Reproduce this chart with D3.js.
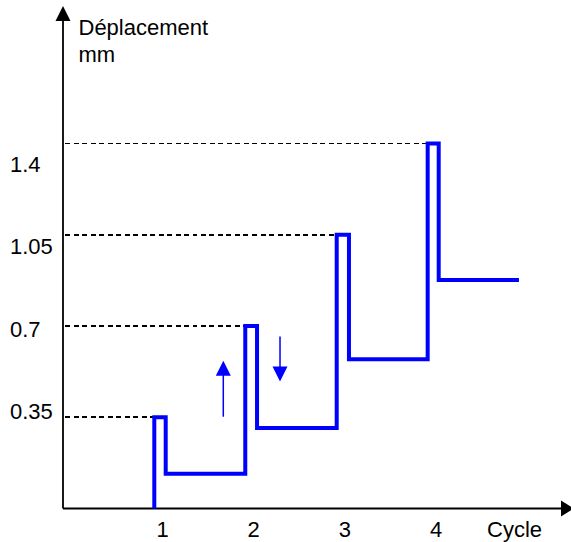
<!DOCTYPE html>
<html>
<head>
<meta charset="utf-8">
<script src="https://cdn.jsdelivr.net/npm/d3@7"></script>
<style>
  html, body { margin: 0; padding: 0; background: #fff; }
  text { font-family: "Liberation Sans", Arial, sans-serif; fill: #000; }
</style>
</head>
<body>
<svg id="chart" width="571" height="542"></svg>
<script>
// ---- data ----
const cycles = [1, 2, 3, 4];
const cycleLabels = ["1", "2", "3", "4"];
const levels = [0.35, 0.7, 1.05, 1.4];
const levelLabels = ["0.35", "0.7", "1.05", "1.4"];
// peak positions (cycle coordinate where the dashed guide meets the curve)
const peakCycles = [0.9375, 1.935, 2.9375, 3.935];
// displacement path: [cycle, mm]
const pathCycle = [0.9375, 0.9375, 1.0625, 1.0625, 1.935, 1.935, 2.064, 2.064, 2.9375, 2.9375, 3.072, 3.072, 3.935, 3.935, 4.056, 4.056, 4.936];
const pathMM    = [0,      0.35,   0.35,   0.1335, 0.1335, 0.7,  0.7,   0.309, 0.309,  1.05,   1.05,  0.572, 0.572, 1.4,   1.4,   0.8765, 0.8765];
// direction arrows: [cycle, from mm, to mm]
const arrowCycle = [1.694, 2.316];
const arrowFrom  = [0.352, 0.66];
const arrowTo    = [0.567, 0.487];
const yTitle = ["Déplacement", "mm"];
const xTitle = "Cycle";

// ---- scales ----
const svg = d3.select("#chart");
const x = d3.scaleLinear().domain([1, 4]).range([160, 433.6]);
const y = d3.scaleLinear().domain([0, 1.4]).range([508.5, 143.5]);
const labelY = d3.scaleLinear().domain([0.35, 1.4]).range([419, 172]);
const axisX0 = 63, axisY0 = 508.5;

// ---- axes ----
svg.append("line").attr("x1", axisX0).attr("y1", axisY0).attr("x2", axisX0).attr("y2", 18)
  .attr("stroke", "#000").attr("stroke-width", 1.8);
svg.append("path").attr("d", d3.line()([[axisX0, 6], [axisX0 - 7.5, 21], [axisX0 + 7.5, 21]]) + "Z")
  .attr("fill", "#000");
svg.append("line").attr("x1", axisX0).attr("y1", axisY0).attr("x2", 562).attr("y2", axisY0)
  .attr("stroke", "#000").attr("stroke-width", 1.8);
svg.append("path").attr("d", d3.line()([[574, axisY0], [561, axisY0 - 8], [561, axisY0 + 8]]) + "Z")
  .attr("fill", "#000");

// ---- dashed guides ----
svg.selectAll("line.guide").data(levels).join("line")
  .attr("class", "guide")
  .attr("x1", axisX0 + 2).attr("x2", (d, i) => x(peakCycles[i]))
  .attr("y1", d => y(d)).attr("y2", d => y(d))
  .attr("stroke", "#000").attr("stroke-width", 1.6).attr("stroke-dasharray", "5,3.5")
  .attr("shape-rendering", "crispEdges");

// ---- curve ----
const pts = pathCycle.map((c, i) => [x(c), y(pathMM[i])]);
svg.append("path").attr("d", d3.line()(pts))
  .attr("fill", "none").attr("stroke", "#0000ff").attr("stroke-width", 4)
  .attr("stroke-linejoin", "miter").attr("stroke-linecap", "butt");

// ---- direction arrows ----
arrowCycle.forEach((c, i) => {
  const ax = x(c), y0 = y(arrowFrom[i]), y1 = y(arrowTo[i]);
  const dir = y1 < y0 ? -1 : 1;
  svg.append("line").attr("x1", ax).attr("x2", ax).attr("y1", y0).attr("y2", y1 - dir * 14)
    .attr("stroke", "#0000ff").attr("stroke-width", 1.5);
  svg.append("path").attr("d", d3.line()([[ax, y1], [ax - 7.5, y1 - dir * 15], [ax + 7.5, y1 - dir * 15]]) + "Z")
    .attr("fill", "#0000ff");
});

// ---- labels ----
const fs = "22px";
svg.selectAll("text.ylab").data(levels).join("text")
  .attr("class", "ylab").attr("x", 10).attr("y", d => labelY(d))
  .attr("font-size", fs).text((d, i) => levelLabels[i]);
svg.selectAll("text.xlab").data(cycles).join("text")
  .attr("class", "xlab").attr("x", d => x(d) + 2.5).attr("y", 536.7)
  .attr("text-anchor", "middle").attr("font-size", fs).text((d, i) => cycleLabels[i]);
svg.append("text").attr("x", 487).attr("y", 536.7).attr("font-size", fs).text(xTitle);
yTitle.forEach((t, i) => {
  svg.append("text").attr("x", 78.5).attr("y", 35 + i * 26.7).attr("font-size", fs).text(t);
});
</script>
</body>
</html>
